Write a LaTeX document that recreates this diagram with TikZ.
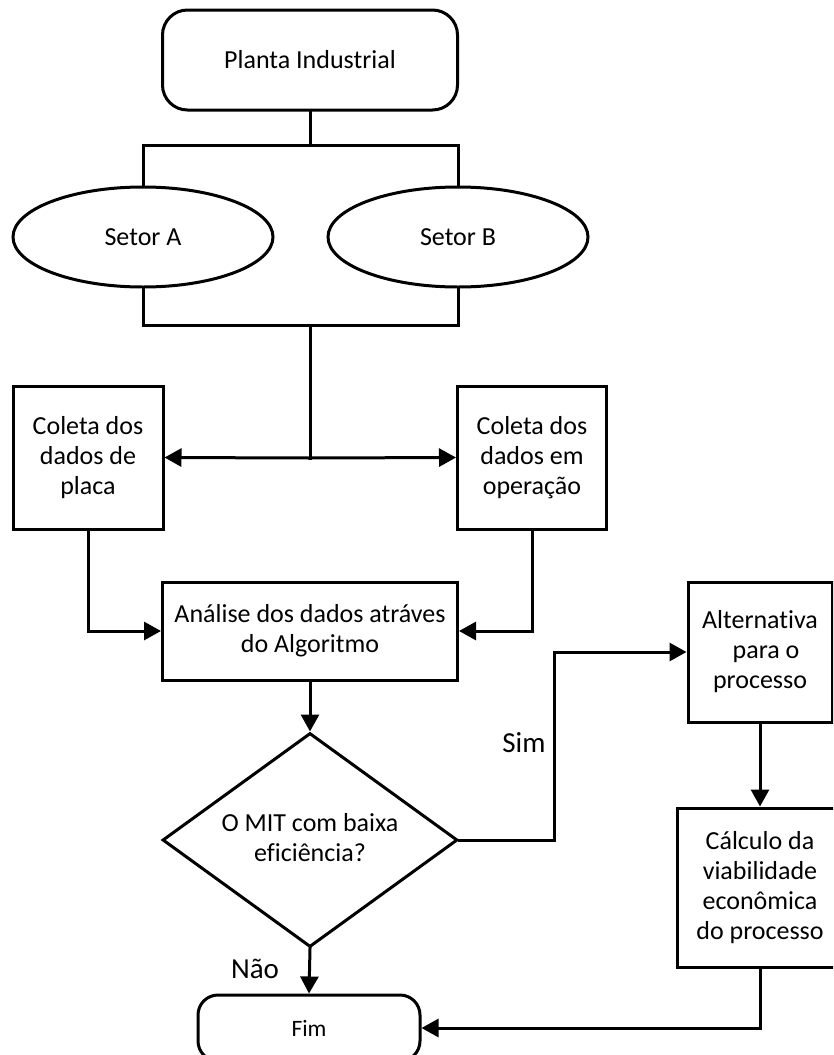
\documentclass[tikz,border=0pt]{standalone}
\usepackage{fontspec}
\setmainfont{Carlito}[Ligatures=CommonOff]
\usetikzlibrary{shapes.geometric,arrows.meta}

\tikzset{
  flow/.style={draw, line width=3pt, inner sep=0pt, align=center,
               font=\fontsize{26}{30}\selectfont},
  term/.style={flow, rectangle, rounded corners=25pt},
  proc/.style={flow, rectangle},
  sector/.style={flow, ellipse},
  decision/.style={flow, diamond, aspect=1.4},
  link/.style={line width=3pt, line cap=rect},
  arr/.style={link, -{Triangle[length=17pt,width=18pt]}},
  tag/.style={inner sep=0pt, font=\fontsize{29}{34}\selectfont}
}

\begin{document}
\begin{tikzpicture}[x=1pt,y=-1pt]
  \fill[white] (0,0) rectangle (833,1055);
  \useasboundingbox (0,0) rectangle (833,1055);
  \clip (0,0) rectangle (833,1055);

  % main blocks
  \node[term, minimum width=295pt, minimum height=100pt] (plant) at (310,60) {Planta Industrial};
  \node[sector, minimum width=260pt, minimum height=100pt] (secA) at (143,237) {Setor A};
  \node[sector, minimum width=260pt, minimum height=100pt] (secB) at (458,237) {Setor B};
  \node[proc, minimum width=150pt, minimum height=143pt] (plate) at (88,457.5) {Coleta dos\\dados de\\placa};
  \node[proc, minimum width=149pt, minimum height=143pt] (oper) at (532,457.5) {Coleta dos\\dados em\\operação};
  \node[proc, minimum width=295pt, minimum height=98pt] (anal) at (310,631) {Análise dos dados atráves\\do Algoritmo};
  \node[decision, minimum width=295pt, minimum height=214pt] (dec) at (310,840) {\\[-16pt]O MIT com baixa\\eficiência?};
  \node[proc, minimum width=144pt, minimum height=140pt] (alt) at (760,652) {Alternativa\\\hspace*{12pt}para o\\processo};
  \node[proc, minimum width=166pt, minimum height=159pt] (calc) at (760,887.5) {Cálculo da\\viabilidade\\econômica\\do processo};
  \node[term, rounded corners=20pt, minimum width=222pt, minimum height=66pt,
        font=\fontsize{23.5}{28}\selectfont] (fim) at (309,1028) {Fim};

  % branch labels
  \node[tag] (sim) at (524,743) {Sim};
  \node[tag] (nao) at (255,969) {Não};

  % junction points
  \coordinate (top) at (310,145);
  \coordinate (bottom) at (310,325);
  \coordinate (fork) at (310,458);
  \coordinate (yes) at (554,840);

  % connectors
  \draw[link] (plant.south) -- (top);
  \draw[link] (secA.north) |- (top) -| (secB.north);
  \draw[link] (secA.south) |- (bottom) -| (secB.south);
  \draw[link] (bottom) -- (fork);
  \draw[arr] (fork) -- (plate.east);
  \draw[arr] (fork) -- (oper.west);
  \draw[arr] (plate.south) |- (anal.west);
  \draw[arr] (oper.south) |- (anal.east);
  \draw[arr] (anal.south) -- (dec.north);
  \draw[arr] (dec.east) -- (yes) |- (alt.west);
  \draw[arr] (alt.south) -- (calc.north);
  \draw[arr] (calc.south) |- (fim.east);
  \draw[arr] (dec.south) -- (fim.north);
\end{tikzpicture}
\end{document}
